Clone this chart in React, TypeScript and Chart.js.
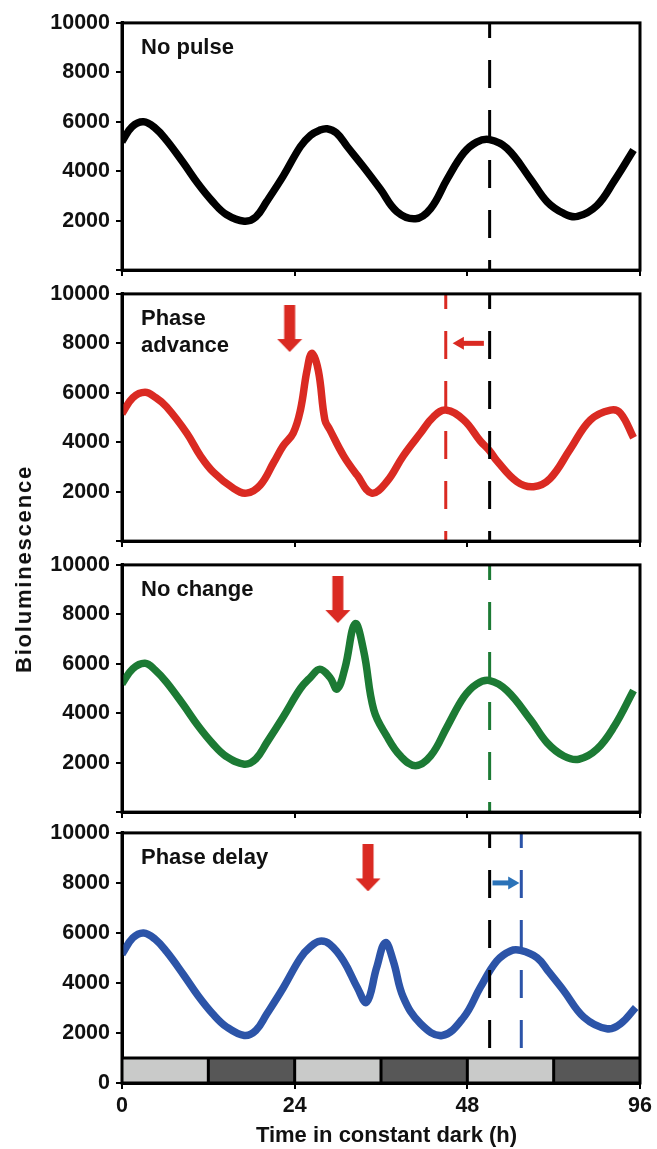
import React, { useEffect, useRef } from 'react';
import { Chart, registerables } from 'chart.js';

Chart.register(...registerables);

// ---------------- data ----------------
const X_TICK_VALUES = [0, 24, 48, 72];
const X_TICK_LABELS = ['0', '24', '48', '96'];
const Y_TICK_VALUES = [0, 2000, 4000, 6000, 8000, 10000];
const Y_TICK_LABELS = ['0', '2000', '4000', '6000', '8000', '10000'];

const PANEL_LABELS = [['No pulse'], ['Phase', 'advance'], ['No change'], ['Phase delay']];

const NO_PULSE_TIME = [0, 1.4, 3, 4.6, 6.2, 8.5, 10.6, 12.6, 14.5, 17, 18.6, 20.1, 22.4, 24.8, 26.2, 27.4, 28.5, 29.8, 31.3, 33.5, 35.9, 38.2, 40.8, 42.9, 45.2, 47.5, 49.3, 51.1, 53.5, 56.8, 59.1, 61.4, 63.3, 66, 68.4, 71.1];
const NO_PULSE_LUM = [5200, 5800, 6000, 5750, 5250, 4350, 3480, 2770, 2250, 1980, 2150, 2770, 3800, 5000, 5450, 5650, 5720, 5550, 5000, 4200, 3280, 2370, 2080, 2490, 3680, 4740, 5180, 5280, 4930, 3680, 2760, 2290, 2170, 2610, 3600, 4860];

const ADVANCE_TIME = [0, 1.5, 3.2, 4.7, 6.2, 9, 10.9, 12.7, 15.5, 17.3, 19.2, 21.1, 22.4, 23.8, 24.8, 25.7, 26.4, 27.3, 28.2, 28.9, 30.8, 32.7, 34.7, 36.8, 39.1, 41.5, 43.3, 45, 47.5, 49.8, 51.1, 52.1, 54.9, 57.2, 59.5, 62.3, 65.1, 67.9, 69.3, 71.1];
const ADVANCE_LUM = [5160, 5800, 6020, 5800, 5430, 4370, 3450, 2790, 2130, 1940, 2260, 3190, 3850, 4370, 5300, 6880, 7600, 6880, 4900, 4500, 3450, 2660, 1940, 2400, 3450, 4370, 5030, 5300, 4900, 4050, 3650, 3250, 2400, 2200, 2530, 3720, 4900, 5300, 5170, 4180];

const NO_CHANGE_TIME = [0, 1.5, 3.2, 4.6, 6.2, 8.5, 10.6, 12.6, 14.5, 17, 18.6, 20.1, 22.4, 24.8, 26.2, 27.5, 28.9, 29.9, 31, 32.4, 33.6, 35, 36.8, 38.7, 40.8, 42.9, 45.2, 47.5, 49.3, 51.1, 53.5, 56.8, 59.1, 61.4, 63.5, 66, 68.4, 71.1];
const NO_CHANGE_LUM = [5190, 5800, 6020, 5750, 5250, 4350, 3480, 2770, 2250, 1940, 2150, 2800, 3850, 5000, 5450, 5780, 5450, 4980, 5840, 7620, 6510, 4130, 3070, 2270, 1880, 2270, 3460, 4650, 5180, 5320, 4920, 3730, 2800, 2270, 2140, 2540, 3460, 4920];

const DELAY_TIME = [0, 1.5, 3, 4.6, 6.2, 8.5, 10.6, 12.6, 14.5, 17, 18.6, 20.1, 22.4, 24.8, 26.2, 27.5, 28.9, 30.8, 32.7, 34, 35.4, 36.6, 37.7, 39.1, 41.5, 44.5, 47.5, 49.8, 52.1, 54, 55.4, 57.7, 59.3, 61.4, 64.2, 67.4, 69.3, 71.4];
const DELAY_LUM = [5150, 5800, 6000, 5750, 5250, 4350, 3480, 2770, 2250, 1900, 2100, 2750, 3800, 5000, 5450, 5670, 5540, 4880, 3820, 3230, 4620, 5610, 4880, 3430, 2370, 1900, 2630, 3820, 4880, 5280, 5300, 5010, 4450, 3690, 2630, 2170, 2370, 3020];

const REFERENCE_PEAK = 51.1;
const ADVANCE_PEAK = 45.0;
const NO_CHANGE_PEAK = 51.1;
const DELAY_PEAK = 55.5;
const PULSE_TIMES = [null, 23.3, 30.0, 34.2];
const PULSE_LEVEL = 8600;
const SHIFT_ARROW_LEVEL = 8000;
const ADVANCE_ARROW = [50.3, 47.0];
const DELAY_ARROW = [51.5, 54.2];
const LD_STARTS = [0, 12, 24, 36, 48, 60];
const LD_ENDS = [12, 24, 36, 48, 60, 72];
const LD_LIGHT = [true, false, true, false, true, false];
const LD_LEVEL = 1000;
const Y_MAX = 10000;

// ---------------- styles ----------------
const FONT = '"Liberation Sans", Arial, Helvetica, sans-serif';
const BLACK = '#000000';
const RED = '#da2a22';
const GREEN = '#1c7a34';
const BLUE = '#2c54a8';
const BLUE_ARROW = '#2a72b8';
const LIGHT = '#c9cac9';
const DARK = '#575757';
const TEXT = '#111111';

const PANEL_TOPS = [20, 291, 562, 830];
const PLOT_H = 253;
const TOP_PAD = 16;
const BOTTOM_PAD = 16;
const CANVAS_W = 657;
const PAGE_H = 1149;

function pts(times, values) {
  return times.map((t, i) => ({ x: t, y: values[i] }));
}

function curve(times, values, color) {
  return {
    data: pts(times, values),
    borderColor: color,
    borderWidth: 7.5,
    pointRadius: 0,
    tension: 0.4,
    cubicInterpolationMode: 'default',
    borderCapStyle: 'butt',
    borderJoinStyle: 'round',
    fill: false,
    clip: 0,
    order: 5,
  };
}

function vline(x, yTop, yBottom, color, width) {
  return {
    data: [{ x, y: yTop }, { x, y: yBottom }],
    borderColor: color,
    borderWidth: width,
    borderDash: [28, 22],
    borderDashOffset: 13,
    borderCapStyle: 'butt',
    pointRadius: 0,
    tension: 0,
    fill: false,
    order: 1,
  };
}

function pulseArrow(t, img) {
  return {
    data: [{ x: t, y: PULSE_LEVEL }],
    showLine: false,
    pointStyle: img,
    pointRadius: 5,
    order: 0,
  };
}

function shiftArrow(range, color, rotation) {
  return {
    data: [{ x: range[0], y: SHIFT_ARROW_LEVEL }, { x: range[1], y: SHIFT_ARROW_LEVEL }],
    borderColor: color,
    borderWidth: 5,
    borderCapStyle: 'butt',
    pointRadius: [0, 7.5],
    pointStyle: 'triangle',
    pointRotation: [0, rotation],
    pointBackgroundColor: color,
    pointBorderWidth: 0,
    tension: 0,
    fill: false,
    order: 0,
  };
}

function ldDatasets() {
  const out = [];
  LD_STARTS.forEach((s, i) => {
    out.push({
      data: [{ x: s, y: LD_LEVEL }, { x: LD_ENDS[i], y: LD_LEVEL }],
      borderColor: 'rgba(0,0,0,0)',
      borderWidth: 0,
      backgroundColor: LD_LIGHT[i] ? LIGHT : DARK,
      fill: 'origin',
      pointRadius: 0,
      tension: 0,
      order: 9,
    });
  });
  out.push({
    data: [{ x: LD_STARTS[0], y: LD_LEVEL }, { x: LD_ENDS[LD_ENDS.length - 1], y: LD_LEVEL }],
    borderColor: BLACK,
    borderWidth: 3,
    pointRadius: 0,
    tension: 0,
    fill: false,
    order: 8,
  });
  LD_STARTS.slice(1).forEach((s) => {
    out.push({
      data: [{ x: s, y: 0 }, { x: s, y: LD_LEVEL }],
      borderColor: BLACK,
      borderWidth: 3,
      pointRadius: 0,
      tension: 0,
      fill: false,
      order: 8,
    });
  });
  return out;
}

function makeArrowImage(color) {
  const c = document.createElement('canvas');
  c.width = 26;
  c.height = 47;
  const g = c.getContext('2d');
  g.fillStyle = color;
  g.fillRect(7.5, 0, 11, 35);
  g.beginPath();
  g.moveTo(0.5, 34);
  g.lineTo(25.5, 34);
  g.lineTo(13, 47);
  g.closePath();
  g.fill();
  return c;
}

function buildDatasets(index) {
  const img = makeArrowImage(RED);
  if (index === 0) {
    return [vline(REFERENCE_PEAK, Y_MAX, 0, BLACK, 3), curve(NO_PULSE_TIME, NO_PULSE_LUM, BLACK)];
  }
  if (index === 1) {
    return [
      pulseArrow(PULSE_TIMES[1], img),
      shiftArrow(ADVANCE_ARROW, RED, 270),
      vline(ADVANCE_PEAK, Y_MAX, 0, RED, 3),
      vline(REFERENCE_PEAK, Y_MAX, 0, BLACK, 3),
      curve(ADVANCE_TIME, ADVANCE_LUM, RED),
    ];
  }
  if (index === 2) {
    return [
      pulseArrow(PULSE_TIMES[2], img),
      vline(NO_CHANGE_PEAK, Y_MAX, 0, GREEN, 3),
      curve(NO_CHANGE_TIME, NO_CHANGE_LUM, GREEN),
    ];
  }
  return [
    pulseArrow(PULSE_TIMES[3], img),
    shiftArrow(DELAY_ARROW, BLUE_ARROW, 90),
    vline(REFERENCE_PEAK, Y_MAX, LD_LEVEL, BLACK, 3),
    vline(DELAY_PEAK, Y_MAX, LD_LEVEL, BLUE, 3),
    curve(DELAY_TIME, DELAY_LUM, BLUE),
    ...ldDatasets(),
  ];
}

function Panel({ index }) {
  const ref = useRef(null);
  const isBottom = index === 3;
  const top = PANEL_TOPS[index] - TOP_PAD;
  const height = isBottom ? PAGE_H - top : TOP_PAD + PLOT_H + BOTTOM_PAD;
  const xAxisHeight = height - TOP_PAD - PLOT_H;

  useEffect(() => {
    const lines = PANEL_LABELS[index];
    const labelPlugin = {
      id: 'panelLabel',
      afterDraw(chart) {
        const { ctx, chartArea } = chart;
        ctx.save();
        ctx.fillStyle = TEXT;
        ctx.font = `bold 22px ${FONT}`;
        ctx.textBaseline = 'alphabetic';
        ctx.textAlign = 'left';
        lines.forEach((line, i) => {
          ctx.fillText(line, chartArea.left + 19, chartArea.top + 31.5 + i * 26.5);
        });
        ctx.restore();
      },
    };
    const framePlugin = {
      id: 'frame',
      afterDatasetsDraw(chart) {
        const { ctx, chartArea } = chart;
        ctx.save();
        ctx.strokeStyle = BLACK;
        ctx.lineWidth = 3;
        ctx.strokeRect(chartArea.left, chartArea.top, chartArea.right - chartArea.left, chartArea.bottom - chartArea.top);
        ctx.restore();
      },
    };

    const chart = new Chart(ref.current, {
      type: 'line',
      data: { datasets: buildDatasets(index) },
      options: {
        responsive: false,
        animation: false,
        devicePixelRatio: 1,
        layout: { padding: { top: TOP_PAD, right: 17, left: 0, bottom: 0 } },
        plugins: { legend: { display: false }, tooltip: { enabled: false } },
        scales: {
          x: {
            type: 'linear',
            min: 0,
            max: 72,
            afterFit: (s) => { s.height = xAxisHeight; },
            border: { display: true, color: BLACK, width: 3 },
            grid: { display: true, drawOnChartArea: false, drawTicks: true, tickLength: 6, color: BLACK, lineWidth: 2 },
            ticks: {
              display: isBottom,
              stepSize: 24,
              autoSkip: false,
              maxRotation: 0,
              padding: 4,
              color: TEXT,
              font: { family: FONT, size: 21.5, weight: 'bold' },
              callback: (v) => {
                const i = X_TICK_VALUES.indexOf(v);
                return i >= 0 ? X_TICK_LABELS[i] : '';
              },
            },
          },
          y: {
            type: 'linear',
            min: 0,
            max: Y_MAX,
            afterFit: (s) => { s.width = 122; },
            border: { display: true, color: BLACK, width: 3 },
            grid: { display: true, drawOnChartArea: false, drawTicks: true, tickLength: 6, color: BLACK, lineWidth: 2 },
            ticks: {
              stepSize: 2000,
              autoSkip: false,
              padding: 6,
              color: TEXT,
              font: { family: FONT, size: 21.5, weight: 'bold' },
              callback: (v) => {
                const i = Y_TICK_VALUES.indexOf(v);
                if (i < 0) return '';
                if (v === 0 && !isBottom) return '';
                return Y_TICK_LABELS[i];
              },
            },
          },
        },
      },
      plugins: [labelPlugin, framePlugin],
    });
    return () => chart.destroy();
  }, []);

  return (
    <canvas
      ref={ref}
      width={CANVAS_W}
      height={height}
      style={{ position: 'absolute', left: 0, top, width: CANVAS_W, height }}
    />
  );
}

export default function App() {
  return (
    <div style={{ position: 'absolute', left: 0, top: 0, width: CANVAS_W, height: PAGE_H, background: '#fff', overflow: 'hidden' }}>
      {[0, 1, 2, 3].map((i) => (
        <Panel key={i} index={i} />
      ))}
      <div
        style={{
          position: 'absolute',
          left: 23.5,
          top: 569,
          transform: 'translate(-50%, -50%) rotate(-90deg)',
          font: `bold 22px ${FONT}`,
          letterSpacing: '1.8px',
          lineHeight: '1',
          whiteSpace: 'nowrap',
          color: TEXT,
        }}
      >
        Bioluminescence
      </div>
      <div
        style={{
          position: 'absolute',
          left: 386.5,
          top: 1135,
          transform: 'translate(-50%, -50%)',
          font: `bold 22px ${FONT}`,
          lineHeight: '1',
          whiteSpace: 'nowrap',
          color: TEXT,
        }}
      >
        Time in constant dark (h)
      </div>
    </div>
  );
}
